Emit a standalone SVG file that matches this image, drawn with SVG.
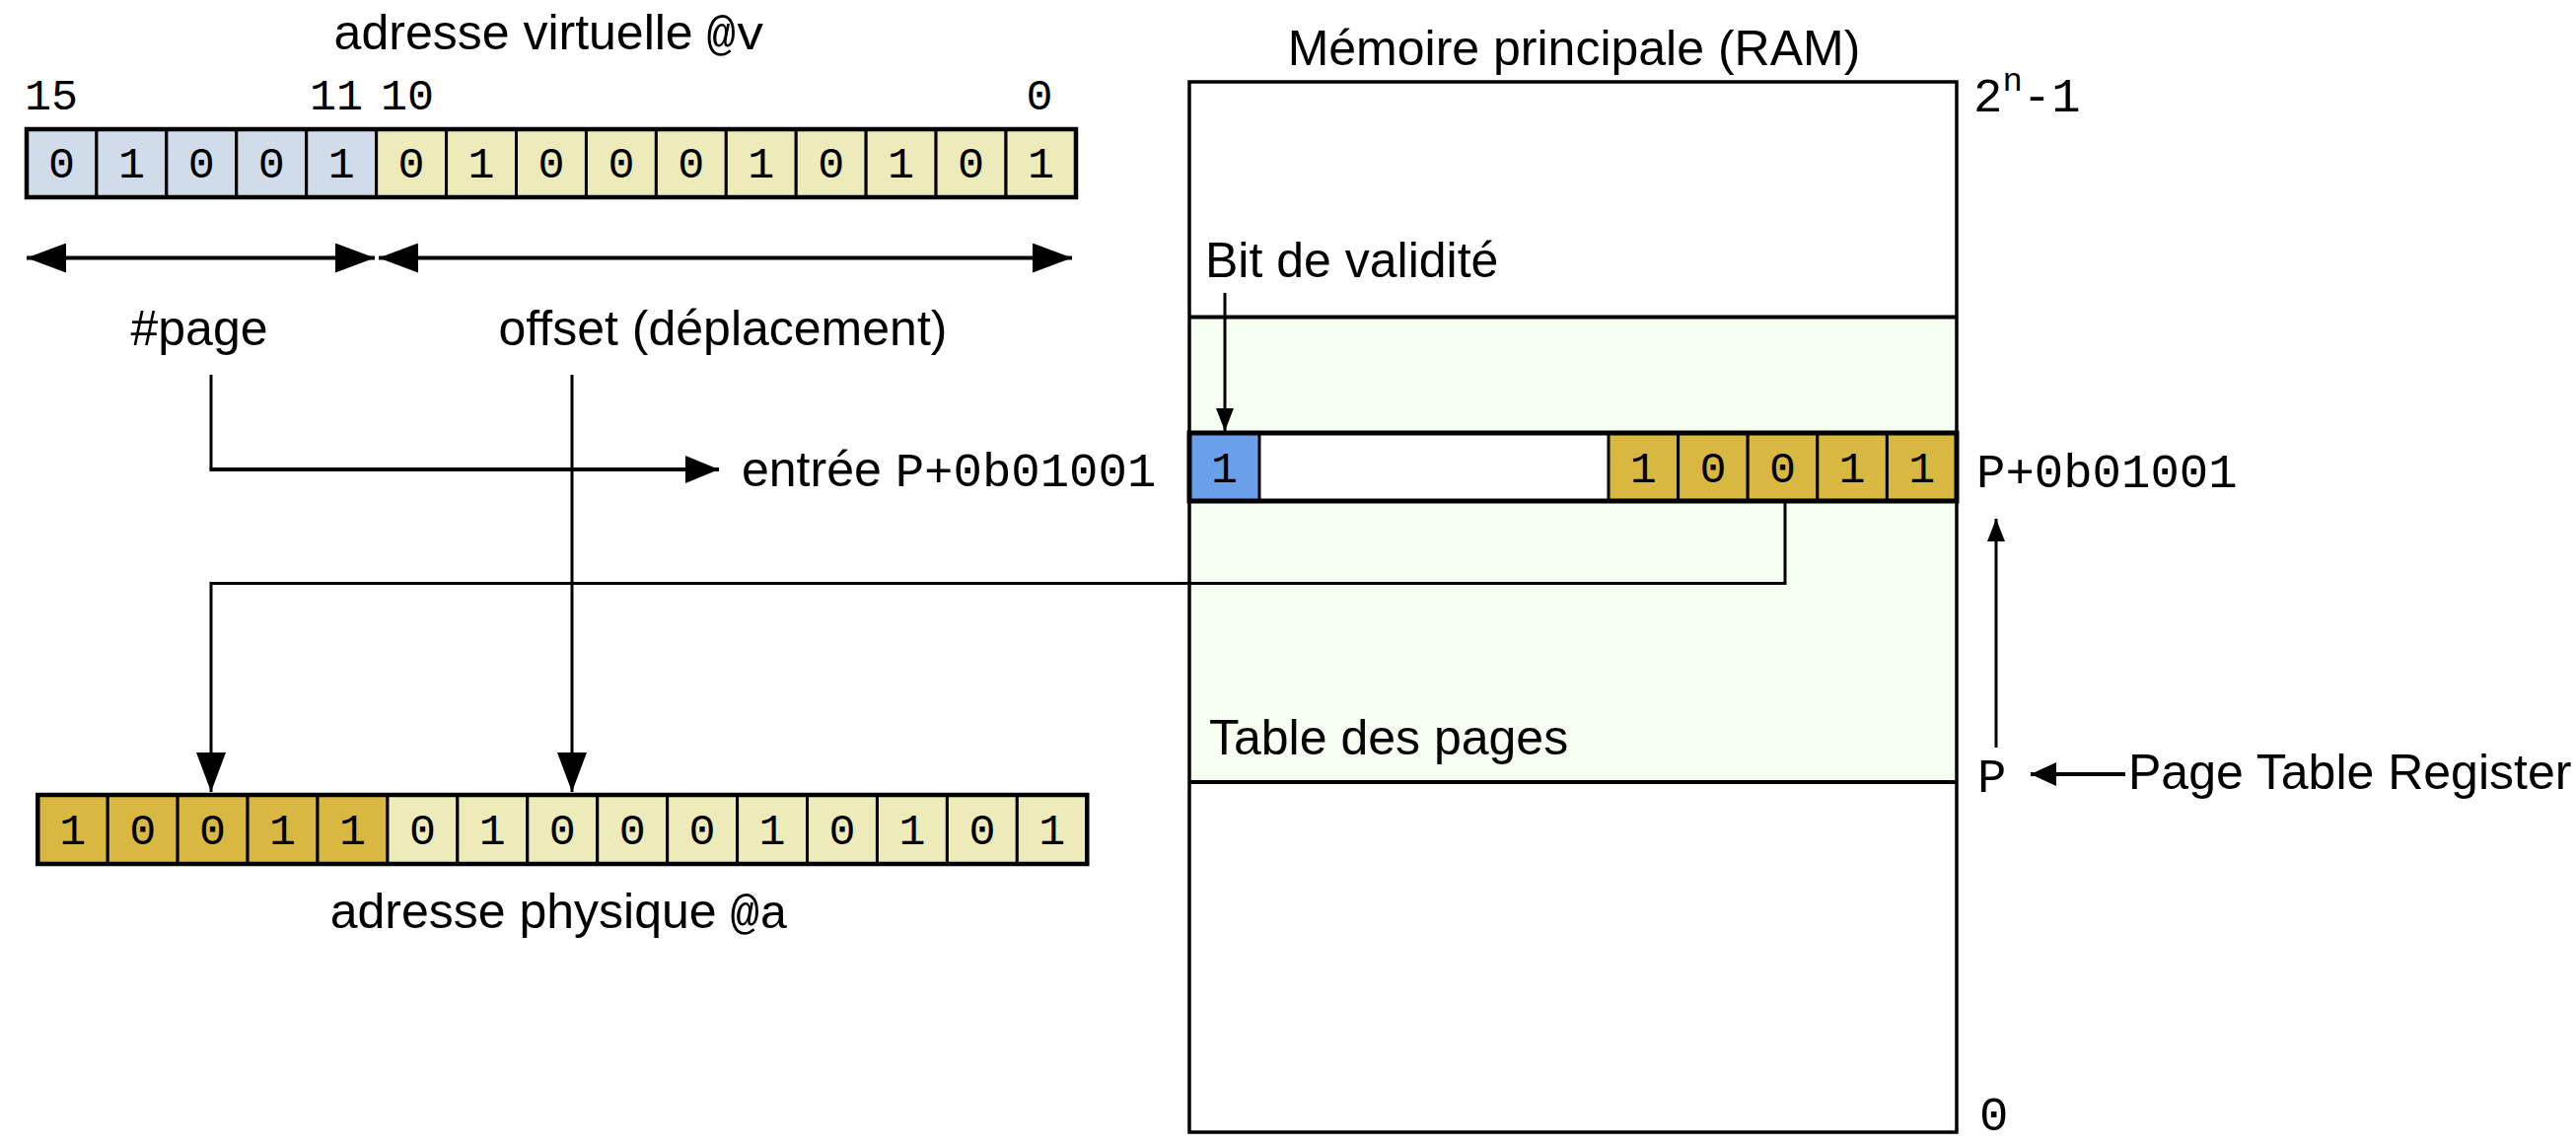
<svg xmlns="http://www.w3.org/2000/svg" width="2612" height="1162" viewBox="0 0 2612 1162">
<style>
.s{font-family:"Liberation Sans",Arial,sans-serif;font-size:50px;fill:#000}
.m{font-family:"Liberation Mono","Courier New",monospace;font-size:49px;fill:#000}
.d{font-family:"Liberation Mono","Courier New",monospace;font-size:45px;fill:#000;text-anchor:middle}
.c{text-anchor:middle}
.cell{stroke:#000;stroke-width:3}
.pg{fill:#D0DCEA}
.of{fill:#EDEBBA}
.gd{fill:#D9B842}
.vb{fill:#6A9FEB}
.out{fill:none;stroke:#000;stroke-width:4.5}
.ln{fill:none;stroke:#000;stroke-width:3}
.lnb{fill:none;stroke:#000;stroke-width:4}
</style>
<defs>
<marker id="big" markerUnits="userSpaceOnUse" markerWidth="40" markerHeight="30" refX="40" refY="15" orient="auto-start-reverse" viewBox="0 0 40 30"><path d="M0,0 L40,15 L0,30 z" fill="#000"/></marker>
<marker id="med" markerUnits="userSpaceOnUse" markerWidth="34" markerHeight="28" refX="34" refY="14" orient="auto" viewBox="0 0 34 28"><path d="M0,0 L34,14 L0,28 z" fill="#000"/></marker>
<marker id="sm" markerUnits="userSpaceOnUse" markerWidth="23" markerHeight="18" refX="23" refY="9" orient="auto" viewBox="0 0 23 18"><path d="M0,0 L23,9 L0,18 z" fill="#000"/></marker>
<marker id="ptr" markerUnits="userSpaceOnUse" markerWidth="26" markerHeight="24" refX="26" refY="12" orient="auto" viewBox="0 0 26 24"><path d="M0,0 L26,12 L0,24 z" fill="#000"/></marker>
</defs>

<g id="virtual-address">
<text class="s c" x="557" y="50">adresse virtuelle <tspan class="m">@v</tspan></text>
<text class="d" x="52" y="111">15</text>
<text class="d" x="341" y="111">11</text>
<text class="d" x="413" y="111">10</text>
<text class="d" x="1054" y="111">0</text>
<g class="cell">
<rect class="pg" x="27" y="131" width="70.93" height="69"/>
<rect class="pg" x="97.93" y="131" width="70.93" height="69"/>
<rect class="pg" x="168.86" y="131" width="70.93" height="69"/>
<rect class="pg" x="239.79" y="131" width="70.93" height="69"/>
<rect class="pg" x="310.72" y="131" width="70.93" height="69"/>
<rect class="of" x="381.65" y="131" width="70.93" height="69"/>
<rect class="of" x="452.58" y="131" width="70.93" height="69"/>
<rect class="of" x="523.51" y="131" width="70.93" height="69"/>
<rect class="of" x="594.44" y="131" width="70.93" height="69"/>
<rect class="of" x="665.37" y="131" width="70.93" height="69"/>
<rect class="of" x="736.3" y="131" width="70.93" height="69"/>
<rect class="of" x="807.23" y="131" width="70.93" height="69"/>
<rect class="of" x="878.16" y="131" width="70.93" height="69"/>
<rect class="of" x="949.09" y="131" width="70.93" height="69"/>
<rect class="of" x="1020.02" y="131" width="70.93" height="69"/>
</g>
<rect class="out" x="27" y="131" width="1064" height="69"/>
<g class="d">
<text x="62.5" y="180">0</text><text x="133.4" y="180">1</text><text x="204.3" y="180">0</text><text x="275.3" y="180">0</text><text x="346.2" y="180">1</text>
<text x="417.1" y="180">0</text><text x="488" y="180">1</text><text x="559" y="180">0</text><text x="629.9" y="180">0</text><text x="700.8" y="180">0</text>
<text x="771.8" y="180">1</text><text x="842.7" y="180">0</text><text x="913.6" y="180">1</text><text x="984.6" y="180">0</text><text x="1055.5" y="180">1</text>
</g>
</g>

<g id="page-label"><text class="s c" x="202" y="350">#page</text></g>
<g id="offset-label"><text class="s c" x="733" y="350">offset (déplacement)</text></g>
<g id="entry-label"><text class="s" x="752" y="493">entrée <tspan class="m">P+0b01001</tspan></text></g>

<g id="physical-address">
<g class="cell">
<rect class="gd" x="38.3" y="806" width="70.93" height="70"/>
<rect class="gd" x="109.23" y="806" width="70.93" height="70"/>
<rect class="gd" x="180.16" y="806" width="70.93" height="70"/>
<rect class="gd" x="251.09" y="806" width="70.93" height="70"/>
<rect class="gd" x="322.02" y="806" width="70.93" height="70"/>
<rect class="of" x="392.95" y="806" width="70.93" height="70"/>
<rect class="of" x="463.88" y="806" width="70.93" height="70"/>
<rect class="of" x="534.81" y="806" width="70.93" height="70"/>
<rect class="of" x="605.74" y="806" width="70.93" height="70"/>
<rect class="of" x="676.67" y="806" width="70.93" height="70"/>
<rect class="of" x="747.6" y="806" width="70.93" height="70"/>
<rect class="of" x="818.53" y="806" width="70.93" height="70"/>
<rect class="of" x="889.46" y="806" width="70.93" height="70"/>
<rect class="of" x="960.39" y="806" width="70.93" height="70"/>
<rect class="of" x="1031.32" y="806" width="70.93" height="70"/>
</g>
<rect class="out" x="38.3" y="806" width="1064" height="70"/>
<g class="d">
<text x="73.8" y="856">1</text><text x="144.7" y="856">0</text><text x="215.6" y="856">0</text><text x="286.6" y="856">1</text><text x="357.5" y="856">1</text>
<text x="428.4" y="856">0</text><text x="499.3" y="856">1</text><text x="570.3" y="856">0</text><text x="641.2" y="856">0</text><text x="712.1" y="856">0</text>
<text x="783.1" y="856">1</text><text x="854" y="856">0</text><text x="924.9" y="856">1</text><text x="995.9" y="856">0</text><text x="1066.8" y="856">1</text>
</g>
<text class="s c" x="567" y="941">adresse physique <tspan class="m">@a</tspan></text>
</g>

<g id="ram">
<text class="s c" x="1596" y="66">Mémoire principale (RAM)</text>
<rect x="1206" y="83" width="778" height="1065" fill="#fff"/>
<rect x="1206" y="321.5" width="778" height="471.5" fill="#F6FDF1"/>
<line class="lnb" x1="1206" y1="321.5" x2="1984" y2="321.5"/>
<line class="lnb" x1="1206" y1="793" x2="1984" y2="793"/>
<rect x="1206" y="83" width="778" height="1065" fill="none" stroke="#000" stroke-width="3.5"/>
<text class="m" x="2001" y="113">2<tspan font-size="34" dy="-21">n</tspan><tspan dy="21">-1</tspan></text>
<text class="m" x="2007" y="1146">0</text>
<text class="s" x="1222" y="281">Bit de validité</text>
<text class="s" x="1226" y="765">Table des pages</text>
</g>

<g id="page-table-entry">
<rect x="1277" y="439" width="354" height="69" fill="#fff"/>
<g class="cell">
<rect class="vb" x="1206" y="439" width="71" height="69"/>
<rect class="gd" x="1631" y="439" width="70.6" height="69"/>
<rect class="gd" x="1701.6" y="439" width="70.6" height="69"/>
<rect class="gd" x="1772.2" y="439" width="70.6" height="69"/>
<rect class="gd" x="1842.8" y="439" width="70.6" height="69"/>
<rect class="gd" x="1913.4" y="439" width="70.6" height="69"/>
</g>
<rect x="1206" y="439" width="778" height="69" fill="none" stroke="#000" stroke-width="5"/>
<g class="d">
<text x="1241.5" y="489">1</text>
<text x="1666.3" y="489">1</text><text x="1736.9" y="489">0</text><text x="1807.5" y="489">0</text><text x="1878.1" y="489">1</text><text x="1948.7" y="489">1</text>
</g>
<text class="m" x="2004" y="494">P+0b01001</text>
</g>

<g id="ptr">
<text class="m" x="2005" y="803">P</text>
<text class="s" x="2158" y="800">Page Table Register</text>
</g>

<g id="connectors">
<line class="lnb" x1="27" y1="261.5" x2="380" y2="261.5" marker-start="url(#big)" marker-end="url(#big)"/>
<line class="lnb" x1="384" y1="261.5" x2="1087" y2="261.5" marker-start="url(#big)" marker-end="url(#big)"/>
<polyline class="ln" points="214,380 214,476"/>
<line class="lnb" x1="212.5" y1="476" x2="729" y2="476" marker-end="url(#med)"/>
<line class="ln" x1="580" y1="380" x2="580" y2="803" marker-end="url(#big)"/>
<polyline class="ln" points="1810,508 1810,591.5 214,591.5 214,803" marker-end="url(#big)"/>
<line class="ln" x1="1242" y1="297" x2="1242" y2="437" marker-end="url(#sm)"/>
<line class="ln" x1="2024" y1="758" x2="2024" y2="526" marker-end="url(#sm)"/>
<line class="lnb" x1="2155" y1="785" x2="2059" y2="785" marker-end="url(#ptr)"/>
</g>
</svg>
